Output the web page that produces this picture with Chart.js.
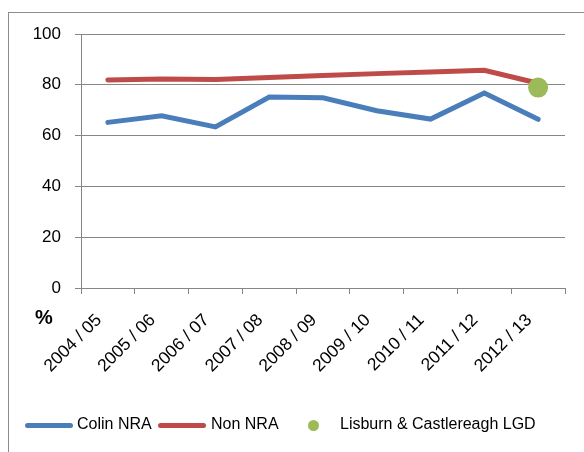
<!DOCTYPE html>
<html>
<head>
<meta charset="utf-8">
<script src="https://cdn.jsdelivr.net/npm/chart.js@4"></script>
<style>
  html, body { margin: 0; padding: 0; background: #fff; }
  body { width: 584px; height: 452px; position: relative; overflow: hidden; font-family: "Liberation Sans", Arial, sans-serif; }
  #frame { position: absolute; left: 8px; top: 12px; width: 600px; height: 460px; border: 1px solid #8c8c8c; box-sizing: border-box; }
  #wrap { position: absolute; left: 0; top: 0; width: 584px; height: 452px; }
  #pct { position: absolute; left: 35px; top: 306px; font-size: 20px; font-weight: bold; color: #000; }
  .leg { position: absolute; top: 415px; font-size: 16px; color: #000; white-space: nowrap; }
  .swatch { position: absolute; height: 5px; border-radius: 3px; top: 423px; }
  .dot { position: absolute; width: 11px; height: 11px; border-radius: 50%; background: #9bbb59; top: 420px; }
</style>
</head>
<body>
<div id="frame"></div>
<div id="wrap"><canvas id="chart" width="584" height="452"></canvas></div>
<div id="pct">%</div>
<div class="swatch" style="left:25px;width:48px;background:#4a7ebb"></div>
<div class="leg" style="left:77px">Colin NRA</div>
<div class="swatch" style="left:158px;width:48px;background:#be4b48"></div>
<div class="leg" style="left:211px">Non NRA</div>
<div class="dot" style="left:308px"></div>
<div class="leg" style="left:340px">Lisburn &amp; Castlereagh LGD</div>
<script>
// ===== Data =====
const years = ["2004 / 05", "2005 / 06", "2006 / 07", "2007 / 08", "2008 / 09", "2009 / 10", "2010 / 11", "2011 / 12", "2012 / 13"];
const colinNRA = [65.2, 67.8, 63.4, 75.2, 74.9, 69.8, 66.5, 76.8, 66.4];
const nonNRA = [81.9, 82.3, 82.1, 82.9, 83.7, 84.4, 85.0, 85.7, 80.6];
const lisburnLGD = [null, null, null, null, null, null, null, null, 78.9];
const yTicks = [0, 20, 40, 60, 80, 100];

const gridColor = "#868686";

new Chart(document.getElementById("chart"), {
  type: "line",
  data: {
    labels: years,
    datasets: [
      {
        label: "Colin NRA",
        data: colinNRA,
        borderColor: "#4a7ebb",
        borderWidth: 5,
        borderCapStyle: "round",
        pointRadius: 0,
        tension: 0,
        order: 2,
      },
      {
        label: "Non NRA",
        data: nonNRA,
        borderColor: "#be4b48",
        borderWidth: 5,
        borderCapStyle: "round",
        pointRadius: 0,
        tension: 0,
        order: 1,
      },
      {
        label: "Lisburn & Castlereagh LGD",
        data: lisburnLGD,
        showLine: false,
        pointRadius: 10,
        pointBackgroundColor: "#9bbb59",
        pointBorderColor: "#9bbb59",
        pointBorderWidth: 0,
        order: 0,
      },
    ],
  },
  options: {
    responsive: false,
    animation: false,
    layout: { padding: { left: 0, top: 34, right: 19, bottom: 0 } },
    plugins: { legend: { display: false }, tooltip: { enabled: false } },
    scales: {
      x: {
        offset: true,
        afterFit: (s) => { s.height = 164; },
        grid: { display: true, drawOnChartArea: false, offset: true, color: gridColor, tickLength: 6, lineWidth: 1 },
        border: { color: gridColor, width: 1 },
        ticks: {
          maxRotation: 45,
          minRotation: 45,
          autoSkip: false,
          padding: 16,
          labelOffset: -9,
          color: "#000",
          font: { family: "Liberation Sans", size: 17.5 },
        },
      },
      y: {
        min: 0,
        max: 100,
        afterFit: (s) => { s.width = 81; },
        afterBuildTicks: (s) => { s.ticks = yTicks.map((v) => ({ value: v })); },
        grid: { color: gridColor, tickLength: 6, lineWidth: 1 },
        border: { color: gridColor, width: 1 },
        ticks: {
          padding: 14,
          color: "#000",
          font: { family: "Liberation Sans", size: 17 },
        },
      },
    },
  },
});
</script>
</body>
</html>
